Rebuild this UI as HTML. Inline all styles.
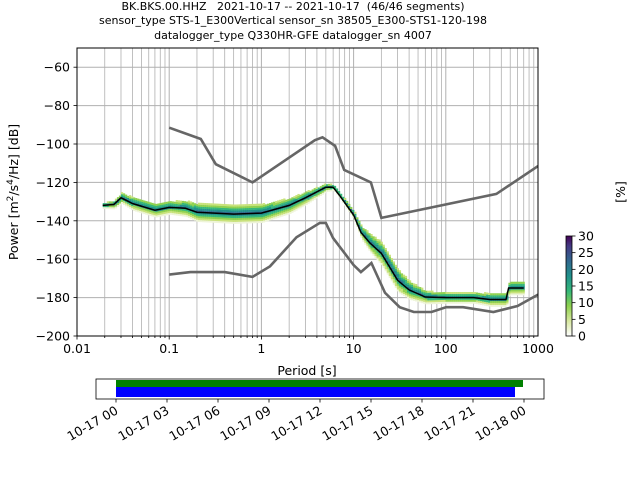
<!DOCTYPE html>
<html><head><meta charset="utf-8"><style>
body{margin:0;background:#fff;}
svg{display:block;font-family:"DejaVu Sans","Liberation Sans",sans-serif;}
</style></head><body>
<svg id="c" width="640" height="480" viewBox="0 0 640 480">
<defs>
<linearGradient id="cb" x1="0" y1="1" x2="0" y2="0">
<stop offset="0" stop-color="#ffffff"/><stop offset="0.15" stop-color="#d8e8a0"/><stop offset="0.3" stop-color="#8fd14f"/><stop offset="0.45" stop-color="#35b779"/><stop offset="0.6" stop-color="#21918c"/><stop offset="0.75" stop-color="#31688e"/><stop offset="0.9" stop-color="#443983"/><stop offset="1" stop-color="#440154"/>
</linearGradient>
<clipPath id="clip"><rect x="77" y="48" width="461" height="288"/></clipPath>
</defs>
<g font-size="11" text-anchor="middle" fill="#000" style="white-space:pre">
<text x="293" y="10" xml:space="preserve">BK.BKS.00.HHZ   2021-10-17 -- 2021-10-17  (46/46 segments)</text>
<text x="293" y="24">sensor_type STS-1_E300Vertical sensor_sn 38505_E300-STS1-120-198</text>
<text x="293" y="39">datalogger_type Q330HR-GFE datalogger_sn 4007</text>
</g>
<g id="grid"></g>
<g id="data" clip-path="url(#clip)"></g>
<g id="models" clip-path="url(#clip)"></g>
<rect x="77" y="48" width="461" height="288" fill="none" stroke="#000" stroke-width="1"/>
<g id="axes" font-size="12.5" fill="#000"></g>
<text x="307" y="375" font-size="12.5" text-anchor="middle">Period [s]</text>
<text transform="translate(18,192) rotate(-90)" font-size="12.5" text-anchor="middle">Power [<tspan>m</tspan><tspan dy="-5" font-size="9">2</tspan><tspan dy="5">/s</tspan><tspan dy="-5" font-size="9">4</tspan><tspan dy="5">/Hz</tspan>] [dB]</text>
<rect x="566" y="236" width="6" height="100" fill="url(#cb)" stroke="#000" stroke-width="0.8"/>
<g id="cbticks" font-size="12.5"></g>
<text transform="translate(625,192) rotate(-90)" font-size="12.5" text-anchor="middle">[%]</text>
<g id="timeline"></g>
</svg>
<script>
const periods=[0.019,0.025,0.03,0.04,0.07,0.1,0.15,0.2,0.5,1,2,3,5,6,7,10,12,15,20,30,40,60,100,200,300,450,480,700];
const meanDb=[-132,-131.5,-128,-131,-134.5,-133,-133.5,-135.5,-136.5,-136,-132,-128,-122.5,-122.5,-126.6,-137,-146,-151.5,-157,-171,-176,-179.7,-180,-180,-181,-181,-175,-175];
const spreadDb=[1,1.5,2,2.5,2.5,2.5,3,3.5,3.5,3.5,3,2.5,1.5,1,1,1.5,2.5,3.5,4.5,4.5,3.5,2.5,2,2,2.5,2.5,2.5,2.5];
const nhnmP=[0.1,0.22,0.32,0.8,3.8,4.6,6.3,7.9,15.4,20,354,1000];
const nhnmDb=[-91.5,-97.4,-110.5,-120,-98,-96.5,-101,-113.5,-120,-138.5,-126,-111.5];
const nlnmP=[0.1,0.17,0.4,0.8,1.24,2.4,4.3,5,6,10,12,15.6,21.9,31.6,45,70,101,154,328,600,1000];
const nlnmDb=[-168,-166.7,-166.7,-169.2,-163.7,-148.6,-141.1,-141.1,-149,-163,-166.7,-162,-177.5,-185,-187.5,-187.5,-185,-185,-187.5,-184.4,-178.5];
const yTicks=[-200,-180,-160,-140,-120,-100,-80,-60];
const xTickLabels=["0.01","0.1","1","10","100","1000"];
const cbTicks=[0,5,10,15,20,25,30];
const timeLabels=["10-17 00","10-17 03","10-17 06","10-17 09","10-17 12","10-17 15","10-17 18","10-17 21","10-18 00"];
const NS="http://www.w3.org/2000/svg";
const X=p=>77+(Math.log10(p)+2)*92.2;
const Y=v=>336-(v+200)*1.92;
function mk(t,a,par){const e=document.createElementNS(NS,t);for(const k in a)e.setAttribute(k,a[k]);par.appendChild(e);return e;}
const grid=document.getElementById('grid'),axes=document.getElementById('axes');
for(let d=-2;d<3;d++)for(let m=1;m<10;m++){const x=X(Math.pow(10,d)*m);
const l=mk('line',{x1:x,x2:x,y1:48,y2:336,stroke:'#b0b0b0','stroke-width':m==1?1:0.8},grid);

mk('line',{x1:x,x2:x,y1:336,y2:m==1?339.5:338,stroke:'#000','stroke-width':0.8},axes);}
xTickLabels.forEach((s,i)=>{const t=mk('text',{x:X(Math.pow(10,i-2)),y:353,'text-anchor':'middle'},axes);t.textContent=s;
});
yTicks.forEach(v=>{const y=Y(v);const l=mk('line',{x1:77,x2:538,y1:y,y2:y,stroke:'#b0b0b0','stroke-width':1},grid);

mk('line',{x1:73.5,x2:77,y1:y,y2:y,stroke:'#000','stroke-width':0.8},axes);
const t=mk('text',{x:70,y:y+4.5,'text-anchor':'end'},axes);t.textContent='\u2212'+Math.abs(v);
});
const data=document.getElementById('data');
const cols=['#eef4d8','#c8e27a','#8fd14f','#35b779','#21918c','#31688e','#440154'];
function interp(arr,p){const lp=Math.log10(p);for(let i=0;i<periods.length-1;i++){const a=Math.log10(periods[i]),b=Math.log10(periods[i+1]);if(lp>=a&&lp<=b){const f=(lp-a)/(b-a);return arr[i]+(arr[i+1]-arr[i])*f;}}return arr[arr.length-1];}
const lp0=Math.log10(periods[0]),lp1=Math.log10(periods[periods.length-1]);
for(let lp=lp0;lp<=lp1;lp+=0.022){const p=Math.pow(10,lp);const m=interp(meanDb,p),s=interp(spreadDb,p);
for(let dv=-s*1.3;dv<=s*1.3;dv+=1){const r=Math.abs(dv)/(s*1.3);const ci=Math.max(0,Math.min(6,Math.round((1-r)*4)+(dv>0?1:0)));
const c=mk('rect',{x:X(p),y:Y(m+dv)-1,width:2.2,height:2.1,fill:cols[ci]},data);
}}
function poly(P,V,attrs,name){const d=P.map((p,i)=>(i?'L':'M')+X(p).toFixed(1)+','+Y(V[i]).toFixed(1)).join('');const e=mk('path',Object.assign({d:d,fill:'none'},attrs),document.getElementById(attrs.g||'models'));return e;}
poly(nhnmP,nhnmDb,{stroke:'#666','stroke-width':2.6},'nhnm-line');
poly(nlnmP,nlnmDb,{stroke:'#666','stroke-width':2.6},'nlnm-line');
poly(periods,meanDb,{stroke:'#000','stroke-width':1.5,g:'data'},'mean-line');
const cbt=document.getElementById('cbticks');
cbTicks.forEach(v=>{const y=336-v/30*100;mk('line',{x1:572,x2:575.5,y1:y,y2:y,stroke:'#000','stroke-width':0.8},cbt);
const t=mk('text',{x:578,y:y+4.5},cbt);t.textContent=v;});
const tl=document.getElementById('timeline');
const t0=116,step=51;
let r=mk('rect',{x:96,y:379,width:448,height:20,fill:'#fff',stroke:'#000','stroke-width':0.8},tl);
r=mk('rect',{x:t0,y:380,width:407,height:7,fill:'#008000'},tl);
r=mk('rect',{x:t0,y:387,width:399,height:10,fill:'#0000ff'},tl);
timeLabels.forEach((s,i)=>{const x=t0+i*step;mk('line',{x1:x,x2:x,y1:399,y2:402.5,stroke:'#000','stroke-width':0.8},tl);
const t=mk('text',{x:0,y:0,'font-size':12.5,'text-anchor':'end',transform:`translate(${x+3},${413}) rotate(-30)`},tl);t.textContent=s;
});
</script>
</body></html>
